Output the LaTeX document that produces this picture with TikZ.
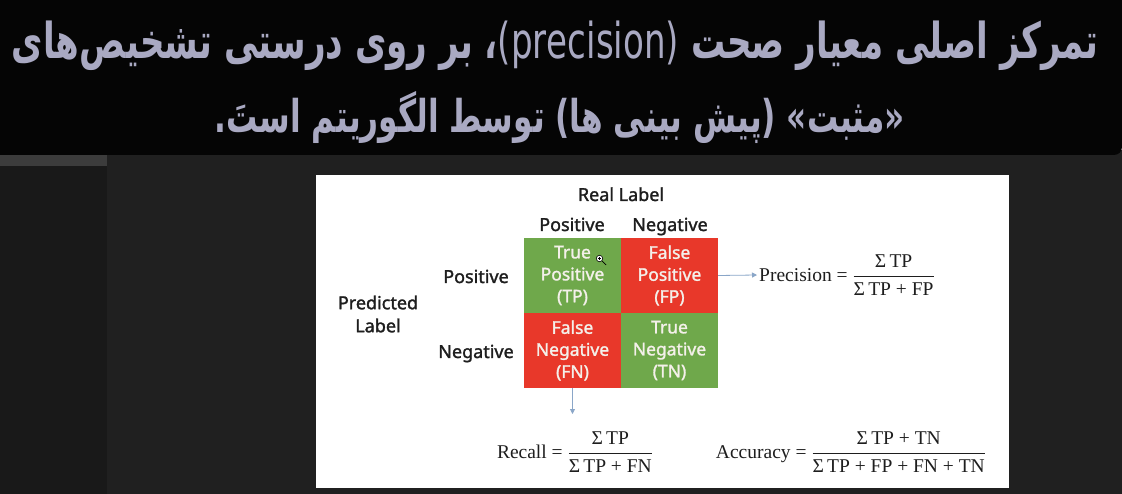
\documentclass[tikz,border=0pt]{standalone}
\usepackage{fontspec}
\usepackage{amsmath}
\usetikzlibrary{arrows.meta}
\TeXXeTstate=1
\newfontfamily\arabicfont[Script=Arabic]{DejaVu Sans}
\newfontfamily\labfont[FakeBold=1.5]{Noto Sans}
\newfontfamily\formfont{Liberation Serif}
\definecolor{bandblack}{HTML}{050505}
\definecolor{bgdark}{HTML}{202020}
\definecolor{stripgrey}{HTML}{3C3C3C}
\definecolor{leftdark}{HTML}{191919}
\definecolor{persian}{HTML}{A9A9C2}
\definecolor{tpgreen}{HTML}{6FA84B}
\definecolor{fpred}{HTML}{E8382A}
\definecolor{labtext}{HTML}{1E1E1E}
\definecolor{arrowblue}{HTML}{8AA6C8}
\definecolor{celltext}{HTML}{F4F0EA}
\tikzset{
  cell/.style={minimum width=97pt, minimum height=75pt, inner sep=0pt, align=center,
    text=celltext, font=\labfont\fontsize{17.5}{22}\selectfont},
  lab/.style={inner sep=0pt, align=center, text=labtext, font=\labfont\fontsize{18}{23}\selectfont},
  formula/.style={inner sep=2pt, text=labtext, font=\formfont\fontsize{19.5}{22}\selectfont},
  arr/.style={draw=arrowblue, line width=0.8pt, -{Triangle[length=5pt,width=5pt]}},
  persiantext/.style={inner sep=0pt, text=persian}
}
\begin{document}
\begin{tikzpicture}[x=1pt,y=-1pt]
\useasboundingbox (0,0) rectangle (1122,494);
% background
\fill[bgdark] (0,150) rectangle (1122,494);
\fill[stripgrey] (0,155) rectangle (107,166);
\fill[leftdark] (0,166) rectangle (107,494);
\fill[bandblack] (0,0) -- (1122,0) [rounded corners=8pt] -- (1122,155) [sharp corners] -- (0,155) -- cycle;
% white panel
\fill[white] (316,175) rectangle (1009,488);
% Persian title
\node[persiantext] (title1) at (555,46) {\scalebox{1}[1.45]{\resizebox{1086pt}{!}{\arabicfont\bfseries\beginR تمرکز اصلی معیار صحت \beginL{\mdseries(precision)}\endL، بر روی درستی تشخیص‌های\endR}}};
\node[persiantext] (title2) at (560,117) {\scalebox{1}[1.45]{\resizebox{690pt}{!}{\arabicfont\bfseries\beginR «مثبت» (پیش بینی ها) توسط الگوریتم استَ.\endR}}};
% matrix cells
\node[cell, fill=tpgreen] (tp) at (572.5,275.5) {True\\Positive\\(TP)};
\node[cell, fill=fpred] (fp) at (669.5,275.5) {False\\Positive\\(FP)};
\node[cell, fill=fpred] (fn) at (572.5,350.5) {False\\Negative\\(FN)};
\node[cell, fill=tpgreen] (tn) at (669.5,350.5) {True\\Negative\\(TN)};
% labels
\node[lab, anchor=base] (real) at (621,201) {Real Label};
\node[lab, anchor=base] (colpos) at (572,231) {Positive};
\node[lab, anchor=base] (colneg) at (670,231) {Negative};
\node[lab, anchor=base] (rowpos) at (476,283) {Positive};
\node[lab, anchor=base] (rowneg) at (476,358) {Negative};
\node[lab] (pred) at (378,314) {Predicted\\Label};
% cursor
\draw[black, line width=0.7pt] (602,261) -- (606,265);
\draw[black, fill=white, line width=0.6pt] (599.5,258.5) circle (3.2pt);
\draw[black, line width=0.5pt] (597.8,258.5) -- (601.2,258.5) (599.5,256.8) -- (599.5,260.2);
% formulas
\node[formula, anchor=west] (prec) at (757,275) {Precision = $\dfrac{\text{Σ\,TP}}{\text{Σ\,TP + FP}}$};
\node[formula] (recall) at (575,452) {Recall = $\dfrac{\text{Σ\,TP}}{\text{Σ\,TP + FN}}$};
\node[formula] (acc) at (851,452) {Accuracy = $\dfrac{\text{Σ\,TP + TN}}{\text{Σ\,TP + FP + FN + TN}}$};
% arrows
\coordinate (rend) at (572.5,414);
\draw[arr] (fp.east) -- (prec.west);
\draw[arr] (fn.south) -- (rend);
\end{tikzpicture}
\end{document}
